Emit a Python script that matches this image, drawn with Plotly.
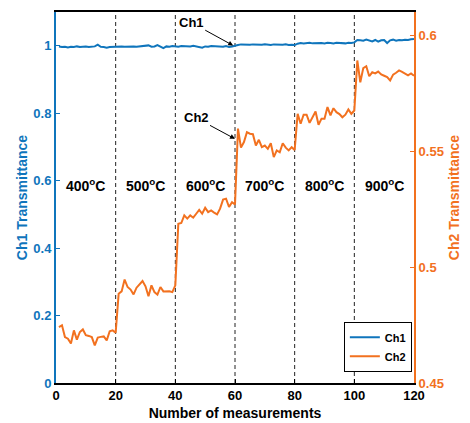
import plotly.graph_objects as go

# ---------------- data ----------------
measurements = list(range(1, 121))

ch1 = [
    0.998, 0.996, 0.997, 0.995, 0.997, 0.996, 0.998, 0.996, 0.997, 0.998,
    0.996, 0.997, 0.998, 1.003, 0.997, 0.996, 0.994, 0.996, 0.997, 0.998,
    0.997, 0.998, 0.997, 0.998, 0.999, 0.998, 0.997, 0.998, 0.999, 0.998,
    1.001, 0.997, 0.998, 1.002, 0.998, 0.993, 0.998, 0.997, 0.999, 0.998,
    0.997, 0.999, 0.998, 0.997, 0.998, 1.000, 0.998, 0.997, 0.994, 0.998,
    0.997, 0.999, 0.998, 0.997, 0.998, 0.997, 0.999, 0.996, 0.998, 0.999,
    1.002, 1.004, 1.003, 1.002, 1.003, 1.004, 1.003, 1.002, 1.003, 1.004,
    1.003, 1.002, 1.004, 1.003, 1.002, 1.003, 1.004, 1.002, 1.003, 1.002,
    1.006, 1.008, 1.007, 1.008, 1.009, 1.007, 1.008, 1.009, 1.008, 1.007,
    1.009, 1.008, 1.007, 1.009, 1.008, 1.008, 1.007, 1.009, 1.008, 1.010,
    1.017, 1.016, 1.015, 1.018, 1.016, 1.013, 1.017, 1.012, 1.016, 1.017,
    1.008, 1.016, 1.018, 1.015, 1.017, 1.016, 1.018, 1.017, 1.019, 1.020,
]

ch2 = [
    0.4741, 0.4749, 0.4698, 0.4691, 0.4670, 0.4727, 0.4687, 0.4720, 0.4731, 0.4706,
    0.4703, 0.4698, 0.4662, 0.4696, 0.4699, 0.4701, 0.4684, 0.4723, 0.4727, 0.4717,
    0.4885, 0.4895, 0.4946, 0.4914, 0.4903, 0.4882, 0.4911, 0.4925, 0.4940, 0.4917,
    0.4874, 0.4921, 0.4892, 0.4881, 0.4914, 0.4895, 0.4897, 0.4896, 0.4892, 0.4921,
    0.5187, 0.5190, 0.5223, 0.5209, 0.5223, 0.5213, 0.5230, 0.5247, 0.5230, 0.5256,
    0.5237, 0.5244, 0.5235, 0.5227, 0.5252, 0.5291, 0.5295, 0.5259, 0.5280, 0.5270,
    0.5597, 0.5515, 0.5539, 0.5582, 0.5575, 0.5573, 0.5524, 0.5549, 0.5517, 0.5524,
    0.5510, 0.5534, 0.5474, 0.5503, 0.5495, 0.5534, 0.5515, 0.5503, 0.5517, 0.5505,
    0.5661, 0.5618, 0.5657, 0.5657, 0.5622, 0.5646, 0.5671, 0.5614, 0.5640, 0.5640,
    0.5690, 0.5654, 0.5685, 0.5668, 0.5660, 0.5646, 0.5657, 0.5680, 0.5661, 0.5675,
    0.5891, 0.5797, 0.5858, 0.5866, 0.5823, 0.5840, 0.5835, 0.5843, 0.5831, 0.5825,
    0.5819, 0.5805, 0.5830, 0.5838, 0.5848, 0.5842, 0.5835, 0.5827, 0.5835, 0.5825,
]

boundaries = [20, 40, 60, 80, 100]
temp_centers = [10, 30, 50, 70, 90, 110]
temp_labels = ["400", "500", "600", "700", "800", "900"]
temp_label_level = 0.586

x_ticks = [0, 20, 40, 60, 80, 100, 120]
y1_ticks = [0, 0.2, 0.4, 0.6, 0.8, 1]
y1_ticklabels = ["0", "0.2", "0.4", "0.6", "0.8", "1"]
y2_ticks = [0.45, 0.5, 0.55, 0.6]
y2_ticklabels = ["0.45", "0.5", "0.55", "0.6"]

ch1_arrow_tip = (59.4, 1.0006)
ch2_arrow_tip = (60.0, 0.5553)

# ---------------- style ----------------
BLUE = "#0F75BC"
ORANGE = "#F2711F"
FONT = "Liberation Sans"

fig = go.Figure()

fig.add_trace(go.Scatter(
    x=measurements, y=ch1, mode="lines", name="<b>Ch1</b>",
    line=dict(color=BLUE, width=2), yaxis="y",
))
fig.add_trace(go.Scatter(
    x=measurements, y=ch2, mode="lines", name="<b>Ch2</b>",
    line=dict(color=ORANGE, width=2), yaxis="y2",
))

shapes = []
for b in boundaries:
    shapes.append(dict(type="line", xref="x", yref="paper", x0=b, x1=b, y0=0, y1=1,
                       line=dict(color="#222222", width=1, dash="4px,3px"), layer="below"))

annotations = []
for c, t in zip(temp_centers, temp_labels):
    annotations.append(dict(x=c, y=temp_label_level, xref="x", yref="y",
                            text=f"<b>{t}<sup>o</sup>C</b>", showarrow=False,
                            font=dict(family=FONT, size=14, color="black")))

annotations.append(dict(x=ch1_arrow_tip[0], y=ch1_arrow_tip[1], xref="x", yref="y",
                        text="<b>Ch1</b>", showarrow=True, ax=-42, ay=-23,
                        arrowhead=2, arrowsize=1, arrowwidth=1, arrowcolor="black",
                        font=dict(family=FONT, size=13, color="black")))
annotations.append(dict(x=ch2_arrow_tip[0], y=ch2_arrow_tip[1], xref="x", yref="y2",
                        text="<b>Ch2</b>", showarrow=True, ax=-39, ay=-21,
                        arrowhead=2, arrowsize=1, arrowwidth=1, arrowcolor="black",
                        font=dict(family=FONT, size=13, color="black")))

fig.update_layout(
    width=470, height=423,
    margin=dict(l=56, r=56, t=12, b=40, autoexpand=False),
    paper_bgcolor="white", plot_bgcolor="white",
    font=dict(family=FONT, size=13, color="black"),
    showlegend=True,
    legend=dict(x=0.994, y=0.03, xanchor="right", yanchor="bottom",
                bgcolor="white", bordercolor="black", borderwidth=1,
                font=dict(family=FONT, size=11, color="black"),
                itemwidth=30, tracegroupgap=0),
    xaxis=dict(range=[0, 120], tickvals=x_ticks, ticktext=[f"<b>{v}</b>" for v in x_ticks],
               ticks="inside", ticklen=4, tickcolor="black", showgrid=False, zeroline=False,
               showline=True, linecolor="black", linewidth=1.5, mirror=True, automargin=False,
               tickfont=dict(family=FONT, size=13, color="black"),
               title=dict(text="<b>Number of measurements</b>",
                          font=dict(family=FONT, size=14, color="black"), standoff=6)),
    yaxis=dict(range=[0, 1.1], tickvals=y1_ticks, ticktext=[f"<b>{v}</b>" for v in y1_ticklabels],
               ticks="inside", ticklen=4, tickcolor=BLUE, showgrid=False, zeroline=False,
               showline=True, linecolor=BLUE, linewidth=2, automargin=False,
               tickfont=dict(family=FONT, size=13, color=BLUE),
               title=dict(text="<b>Ch1 Transmittance</b>",
                          font=dict(family=FONT, size=14, color=BLUE), standoff=2)),
    yaxis2=dict(range=[0.45, 0.61], tickvals=y2_ticks, ticktext=[f"<b>{v}</b>" for v in y2_ticklabels],
                overlaying="y", side="right", automargin=False,
                ticks="inside", ticklen=4, tickcolor=ORANGE, showgrid=False, zeroline=False,
                showline=True, linecolor=ORANGE, linewidth=2,
                tickfont=dict(family=FONT, size=13, color=ORANGE),
                title=dict(text="<b>Ch2 Transmittance</b>",
                           font=dict(family=FONT, size=14, color=ORANGE), standoff=6)),
    shapes=shapes,
    annotations=annotations,
)

fig.write_html("out.html")
